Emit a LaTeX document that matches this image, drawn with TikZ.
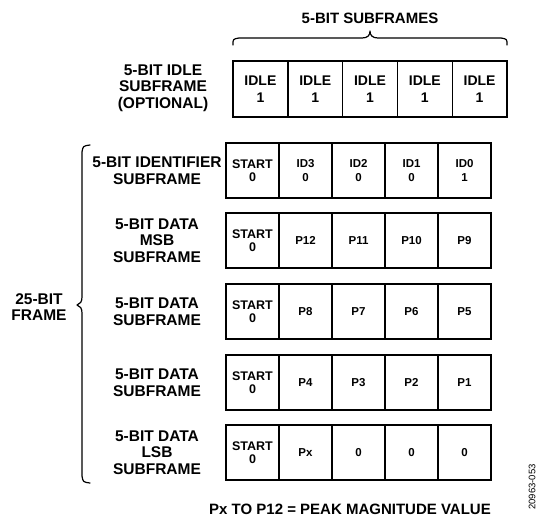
\documentclass[tikz,border=0pt]{standalone}
\usepackage{fontspec}
\setmainfont{Liberation Sans}
\begin{document}
\begin{tikzpicture}[x=1pt,y=-1pt,
  box/.style={draw,line width=1.4pt,inner sep=0pt,align=center},
  idlecell/.style={box,minimum width=54.8pt,minimum height=56pt,font=\bfseries\fontsize{14}{17}\selectfont},
  startcell/.style={box,minimum width=53pt,minimum height=55pt,font=\bfseries\fontsize{12.5}{13.3}\selectfont},
  bitcell/.style={box,minimum width=53pt,minimum height=55pt,font=\bfseries\fontsize{11.5}{13.3}\selectfont},
  rowlabel/.style={inner sep=0pt,align=center,font=\bfseries\fontsize{15.5}{16.5}\selectfont},
  bigtext/.style={inner sep=0pt,align=center,font=\bfseries\fontsize{15}{16}\selectfont},
  bracepath/.style={line width=1.2pt,line cap=round,line join=round}]
\useasboundingbox (0,0) rectangle (540,517);

% title and top brace
\node[bigtext] (title) at (370,18.5) {5-BIT SUBFRAMES};
\draw[bracepath] (233,45) .. controls (233,39) .. (239,38) -- (362,38)
  .. controls (368,38) and (370,35) .. (370,31)
  .. controls (370,35) and (372,38) .. (378,38) -- (501,38)
  .. controls (507,39) .. (507,45);

% idle row
\node[rowlabel] (lidle) at (163,88) {5-BIT IDLE\\SUBFRAME\\(OPTIONAL)};
\foreach \i in {0,...,4}
  \node[idlecell] (idle\i) at (260.4+54.8*\i,89) {IDLE\\1};

% identifier row
\node[rowlabel] (l1) at (157,170.5) {5-BIT IDENTIFIER\\SUBFRAME};
\node[startcell] (a0) at (252.5,170.5) {START\\0};
\foreach \t [count=\i] in {{ID3\\0},{ID2\\0},{ID1\\0},{ID0\\1}}
  \node[bitcell] (a\i) at (252.5+53*\i,170.5) {\t};

% MSB row
\node[rowlabel] (l2) at (157,240.5) {5-BIT DATA\\MSB\\SUBFRAME};
\node[startcell] (b0) at (252.5,240.5) {START\\0};
\foreach \t [count=\i] in {P12,P11,P10,P9}
  \node[bitcell] (b\i) at (252.5+53*\i,240.5) {\t};

% data row
\node[rowlabel] (l3) at (157,311.5) {5-BIT DATA\\SUBFRAME};
\node[startcell] (c0) at (252.5,311.5) {START\\0};
\foreach \t [count=\i] in {P8,P7,P6,P5}
  \node[bitcell] (c\i) at (252.5+53*\i,311.5) {\t};

% data row
\node[rowlabel] (l4) at (157,382.5) {5-BIT DATA\\SUBFRAME};
\node[startcell] (d0) at (252.5,382.5) {START\\0};
\foreach \t [count=\i] in {P4,P3,P2,P1}
  \node[bitcell] (d\i) at (252.5+53*\i,382.5) {\t};

% LSB row
\node[rowlabel] (l5) at (157,452.5) {5-BIT DATA\\LSB\\SUBFRAME};
\node[startcell] (e0) at (252.5,452.5) {START\\0};
\foreach \t [count=\i] in {Px,0,0,0}
  \node[bitcell] (e\i) at (252.5+53*\i,452.5) {\t};

% left brace
\draw[bracepath] (90,145) .. controls (83,146) .. (82,152) -- (82,297)
  .. controls (82,302) and (80,304) .. (77,305)
  .. controls (80,306) and (82,308) .. (82,313) -- (82,476)
  .. controls (83,482) .. (90,483);
\node[rowlabel,font=\bfseries\fontsize{15.5}{15.5}\selectfont] (frame) at (39,307) {25-BIT\\FRAME};

% footnote
\node[bigtext] (note) at (350,509) {Px TO P12 = PEAK MAGNITUDE VALUE};
\node[inner sep=0pt,rotate=90,font=\fontsize{9.5}{10}\selectfont] (fig) at (532,487) {20963-053};
\end{tikzpicture}
\end{document}
